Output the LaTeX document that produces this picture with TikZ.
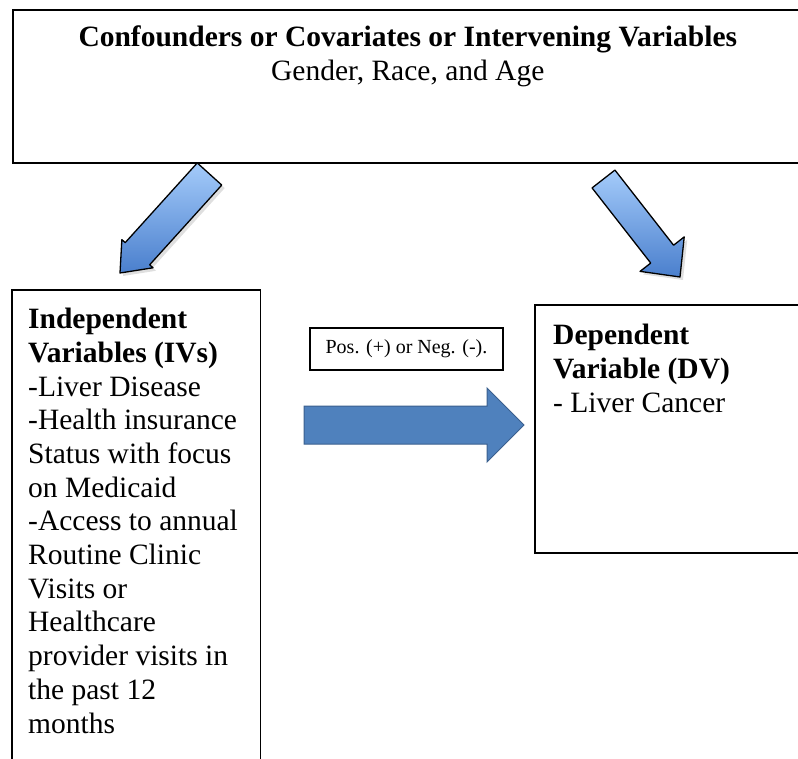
\documentclass[tikz,border=0pt]{standalone}
\usepackage{fontspec}
\setmainfont{Liberation Serif}
\usetikzlibrary{calc,positioning,shadows}

\definecolor{arrowlight}{HTML}{A4CBFA}
\definecolor{arrowdark}{HTML}{4A7FCD}
\definecolor{flowfill}{HTML}{4F81BD}
\definecolor{flowline}{HTML}{3A5F8E}

\tikzstyle{frame} = [rectangle, draw, line width=1.6pt, inner sep=0pt]
\tikzstyle{bigtext} = [inner sep=0pt, align=left, font=\fontsize{29.5}{33.7}\selectfont]
\tikzstyle{tiltarrow} = [draw, line width=1.3pt, line join=round, top color=arrowlight, bottom color=arrowdark,
drop shadow={shadow xshift=3pt, shadow yshift=-3pt, opacity=0.25}]
\tikzstyle{flatarrow} = [draw=flowline, line width=1pt, line join=miter, fill=flowfill]

% block arrow: style, tail, tip, half shaft, half head, head length
\newcommand{\blockarrow}[6]{%
  \coordinate (hb) at ($(#3)!#6!(#2)$);
  \path [#1] ($(#2)!#4!90:(#3)$) -- ($(hb)!#4!90:(#3)$) -- ($(hb)!#5!90:(#3)$) -- (#3)
    -- ($(hb)!#5!-90:(#3)$) -- ($(hb)!#4!-90:(#3)$) -- ($(#2)!#4!-90:(#3)$) -- cycle;
}

\begin{document}
\begin{tikzpicture}[x=1pt,y=-1pt]

         \useasboundingbox (0,0) rectangle (798,759);
         \clip (0,0) rectangle (798,759);

         % boxes
         \node (confbox) [frame, anchor=north west, minimum width=790pt, minimum height=153pt] at (12,9) {};
         \node (ivbox)   [frame, anchor=north west, minimum width=248.5pt, minimum height=520pt] at (11,289) {};
         \node (dvbox)   [frame, anchor=north west, minimum width=290pt, minimum height=248pt] at (534,304) {};

         % texts
         \node (conftext) [bigtext, align=center, below=17pt of confbox.north]
              {\textbf{Confounders or Covariates or Intervening Variables}\\Gender, Race, and Age};
         \node (ivtext) [bigtext, anchor=north west, below right=19pt and 17pt of ivbox.north west]
              {\textbf{Independent}\\\textbf{Variables (IVs)}\\-Liver Disease\\-Health insurance\\Status with focus\\on Medicaid\\-Access to annual\\Routine Clinic\\Visits or\\Healthcare\\provider visits in\\the past 12\\months};
         \node (dvtext) [bigtext, anchor=north west, below right=20pt and 19pt of dvbox.north west]
              {\textbf{Dependent}\\\textbf{Variable (DV)}\\- Liver Cancer};

         \node (signbox) [rectangle, draw, line width=1.2pt, minimum width=193pt, minimum height=42pt,
              font=\fontsize{20}{24}\selectfont] at (406.5,349) {Pos. (+) or Neg. (-).};

         % arrows
         \coordinate (ivtail) at (209.5,174);
         \coordinate (ivtip)  at (120,273);
         \coordinate (dvtail) at (603.5,179);
         \coordinate (dvtip)  at (680,277);
         \coordinate (flowtail) at (304,425);
         \coordinate (flowtip)  at (524,425);

         \blockarrow{tiltarrow}{ivtail}{ivtip}{16.5pt}{21pt}{26pt}
         \blockarrow{tiltarrow}{dvtail}{dvtip}{14.5pt}{28pt}{29pt}
         \blockarrow{flatarrow}{flowtail}{flowtip}{19pt}{37pt}{37pt}

     \end{tikzpicture}
\end{document}
